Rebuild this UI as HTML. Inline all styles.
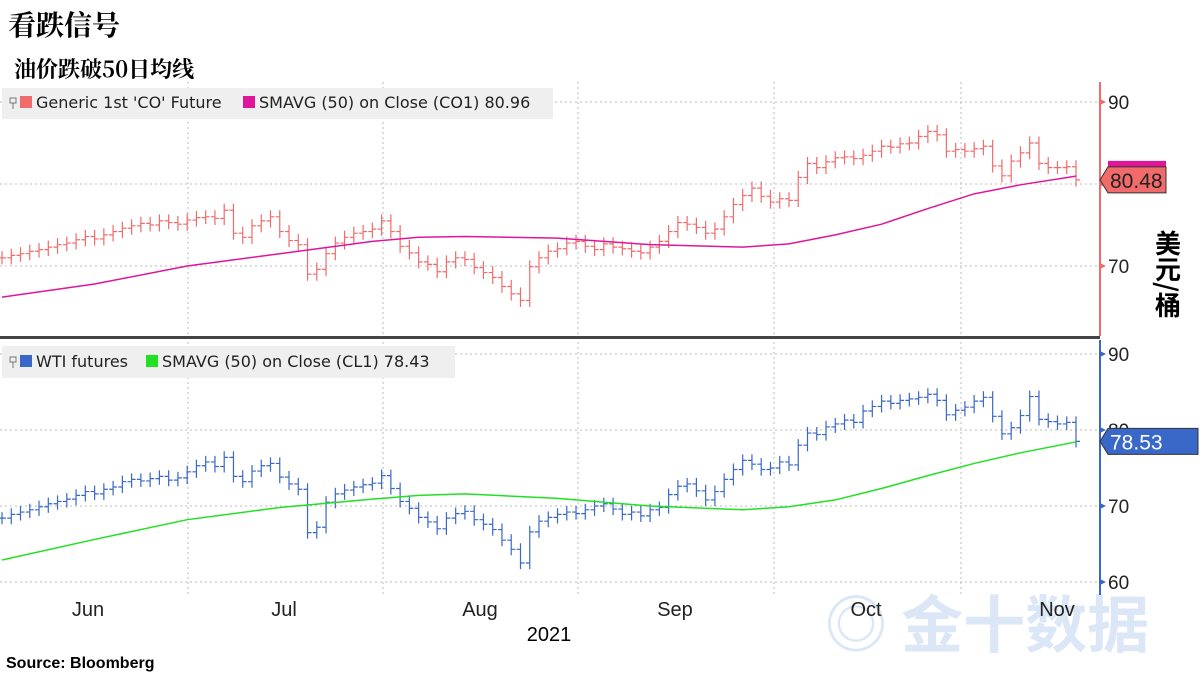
<!DOCTYPE html>
<html><head><meta charset="utf-8"><style>
body{margin:0;background:#fff;width:1200px;height:675px;overflow:hidden;font-family:"Liberation Sans","Noto Sans CJK SC",sans-serif}
</style></head><body>
<svg id="c" width="1200" height="675" xmlns="http://www.w3.org/2000/svg" style="position:absolute;left:0;top:0">
<text x="8" y="35" font-size="28" font-weight="bold" font-family="'Noto Serif CJK SC','Noto Sans CJK SC',sans-serif">看跌信号</text>
<text x="14" y="77" font-size="22" font-weight="bold" font-family="'Noto Serif CJK SC','Noto Sans CJK SC',sans-serif">油价跌破50日均线</text>
<text x="825" y="647" font-size="62" font-weight="bold" fill="#dbe6f7" font-family="'Noto Sans CJK SC',sans-serif">◎ 金十数据</text>
<g id="grid"></g>
<g id="top"></g>
<g id="bot"></g>
<rect x="0" y="336" width="1100" height="3" fill="#444"/>
<rect x="2" y="88" width="551" height="31" fill="#efefef"/>
<path d="M10 98h6v5h-6zM13 103v6" stroke="#777" fill="none"/>
<rect x="20" y="96" width="12" height="12" fill="#f26b6b"/>
<text x="36" y="108" font-size="16" fill="#222" font-family="'DejaVu Sans',sans-serif">Generic 1st 'CO' Future</text>
<rect x="243" y="96" width="12" height="12" fill="#e0169a"/>
<text x="259" y="108" font-size="16" fill="#222" font-family="'DejaVu Sans',sans-serif">SMAVG (50)  on Close (CO1) 80.96</text>
<rect x="2" y="346" width="453" height="32" fill="#efefef"/>
<path d="M10 357h6v5h-6zM13 362v6" stroke="#777" fill="none"/>
<rect x="20" y="355" width="12" height="12" fill="#3a68c8"/>
<text x="36" y="367" font-size="16" fill="#222" font-family="'DejaVu Sans',sans-serif">WTI futures</text>
<rect x="146" y="355" width="12" height="12" fill="#22e022"/>
<text x="162" y="367" font-size="16" fill="#222" font-family="'DejaVu Sans',sans-serif">SMAVG (50)  on Close (CL1) 78.43</text>
<text x="1168" y="230" font-size="26" font-weight="bold" writing-mode="tb" font-family="'Noto Sans CJK SC',sans-serif">美元/桶</text>
<text x="549" y="641" font-size="20" text-anchor="middle">2021</text>
<text x="6" y="668" font-size="16" font-weight="bold">Source: Bloomberg</text>
</svg>
<script>
const brentClose=[71.0,71.3,71.5,71.8,72.0,72.3,72.6,72.8,73.2,73.6,73.3,73.8,74.2,74.6,74.9,75.2,75.0,75.5,75.3,75.1,75.6,75.9,76.0,75.8,76.8,74.0,73.5,74.9,75.5,76.0,74.2,73.1,72.6,69.0,69.6,71.5,72.8,73.5,74.0,74.2,74.5,75.5,74.2,72.4,71.6,70.5,70.2,69.3,70.5,71.0,70.8,69.8,69.2,68.6,67.5,66.6,65.8,69.9,71.0,71.8,72.1,72.8,73.0,72.4,72.0,72.7,72.3,72.1,71.8,71.6,72.3,73.0,74.2,75.3,75.1,74.7,74.0,74.5,76.0,77.5,78.6,79.5,78.5,77.8,78.2,78.0,80.8,82.5,82.0,82.7,83.2,83.3,83.1,83.5,84.0,84.6,84.5,84.9,85.0,85.8,86.4,86.0,84.0,84.2,84.0,84.3,84.6,82.2,81.0,82.8,83.8,85.0,82.5,82.0,82.0,82.1,80.5];
const wtiClose=[68.4,68.9,69.2,69.5,69.9,70.3,70.6,70.9,71.4,71.9,71.6,72.2,72.5,73.2,73.5,73.3,73.6,73.9,73.4,73.7,74.5,75.3,75.8,75.2,76.4,73.9,73.2,74.6,75.3,75.6,73.8,72.9,72.2,66.5,67.2,70.5,71.6,72.1,72.5,72.8,73.0,74.0,72.3,70.6,69.7,68.5,67.9,67.0,68.4,69.0,69.3,68.2,67.6,66.9,65.5,64.3,62.5,66.6,68.0,68.5,68.9,69.2,69.0,69.5,70.0,70.3,69.6,68.9,69.2,68.7,69.5,69.8,71.5,72.6,72.9,72.0,70.8,71.9,73.5,74.8,76.0,75.5,74.8,75.0,75.8,75.4,78.0,79.6,79.4,80.4,80.8,81.3,81.0,82.5,83.1,83.8,83.5,83.9,84.1,84.3,84.7,83.9,82.0,82.6,83.0,83.8,84.3,81.8,79.5,80.3,81.9,84.4,81.4,81.1,80.8,81.0,78.5];
const smaDays=[0,10,20,30,40,45,50,60,70,80,85,90,95,100,105,110,116];
const brentSma=[66.2,67.8,70.0,71.5,73.0,73.5,73.6,73.4,72.6,72.3,72.7,73.8,75.1,77.0,78.8,79.9,80.96];
const wtiSma=[62.9,65.6,68.2,69.8,70.9,71.4,71.6,71.0,70.0,69.5,69.9,70.8,72.3,74.0,75.6,77.0,78.43];
const topTicks=[70,80,90];
const botTicks=[60,70,80,90];
const months=["Jun","Jul","Aug","Sep","Oct","Nov"];
const monthLabelX=[88,284,480,675,866,1057];
const gridX=[188,383,578,774,961];

const NS="http://www.w3.org/2000/svg";
const xScale=i=>2+i*(1074/116);
const yTop=v=>266-(v-70)*8.2;
const yBot=v=>506-(v-70)*7.6;
function mk(tag,attrs,parent){const e=document.createElementNS(NS,tag);for(const k in attrs)e.setAttribute(k,attrs[k]);parent.appendChild(e);return e;}
const grid=document.getElementById('grid');
gridX.forEach(x=>{
  const l=mk('line',{x1:x,x2:x,y1:82,y2:595,stroke:'#bbb','stroke-dasharray':'2,3'},grid);
  
  
});
function panel(g,closes,sma,ys,ticks,color,smaColor,axisColor,top,bottom,lastLabel,boxW){
  ticks.forEach(t=>{
    const l=mk('line',{x1:0,x2:1100,y1:ys(t),y2:ys(t),stroke:'#bbb','stroke-dasharray':'2,3'},g);
    
    
    mk('path',{d:`M1100 ${ys(t)-3} L1106 ${ys(t)} L1100 ${ys(t)+3}Z`,fill:axisColor},g);
    const tx=mk('text',{x:1108,y:ys(t)+7,'font-size':19,fill:'#222'},g);
    tx.textContent=t;
    
    
  });
  const ax=mk('line',{x1:1100,x2:1100,y1:top,y2:bottom,stroke:axisColor,'stroke-width':2},g);
  
  
  closes.forEach((c,i)=>{
    const o=i>0?closes[i-1]:c;
    const hi=Math.max(o,c)+0.8, lo=Math.min(o,c)-0.8;
    const x=xScale(i);
    const b=mk('path',{d:`M${x} ${ys(hi)}V${ys(lo)}M${x-4} ${ys(o)}H${x}M${x} ${ys(c)}H${x+4}`,stroke:color,'stroke-width':1.2,fill:'none'},g);
    
    
  });
  const p=mk('polyline',{points:smaDays.map((d,k)=>xScale(d)+','+ys(sma[k])).join(' '),fill:'none',stroke:smaColor,'stroke-width':1.5},g);
  
  
  const last=closes[closes.length-1], y=ys(last);
  const bx=mk('path',{d:`M1100 ${y} L1108 ${y-13} H${1100+boxW} V${y+13} H1108Z`,fill:color,stroke:'#333','stroke-width':1},g);
  
  
  const lt=mk('text',{x:1110,y:y+8,'font-size':21,fill:lastLabel[1]},g);
  lt.textContent=last.toFixed(2)==="80.50"?"80.48":(last.toFixed(2)==="78.50"?"78.53":last.toFixed(2));
  
  
}
const topG=document.getElementById('top'), botG=document.getElementById('bot');
mk('rect',{x:1108,y:yTop(brentClose[116])-19,width:58,height:6,fill:'#e0169a'},topG);
panel(topG,brentClose,brentSma,yTop,topTicks,'#f26b6b','#e0169a','#f26b6b',82,336,['','#222'],66);
panel(botG,wtiClose,wtiSma,yBot,botTicks,'#3a68c8','#22e022','#3a68c8',340,595,['','#fff'],98);
const svg=document.getElementById('c');
months.forEach((m,i)=>{
  const t=mk('text',{x:monthLabelX[i],y:616,'font-size':20,'text-anchor':'middle',fill:'#222'},svg);
  t.textContent=m;
  
  
});
</script>
</body></html>
